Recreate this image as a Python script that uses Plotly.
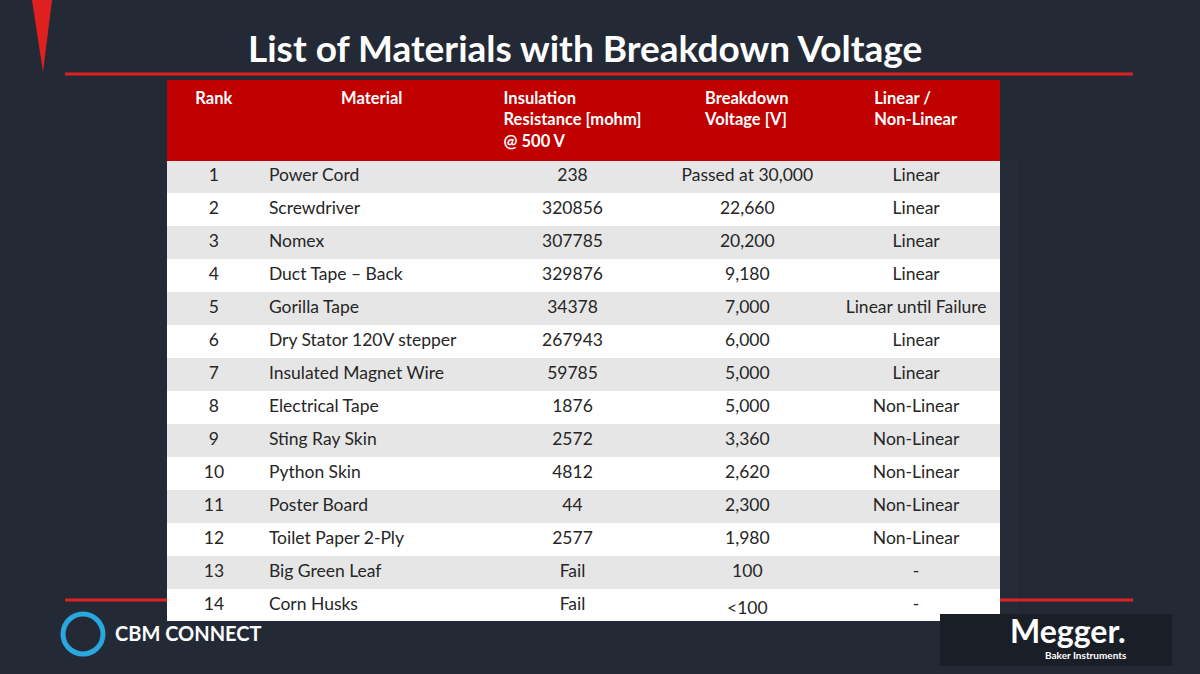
import plotly.graph_objects as go

# データ
headers = ["<b><br>Rank</b>", "<b><br>Material</b>", "<b>Insulation<br>Resistance [mohm]<br>@ 500 V</b>",
           "<b>Breakdown<br>Voltage [V]</b>", "<b>Linear /<br>Non-Linear</b>"]
ranks = [str(i) for i in range(1, 15)]
materials = ["Power Cord", "Screwdriver", "Nomex", "Duct Tape \u2013 Back", "Gorilla Tape",
             "Dry Stator 120V stepper", "Insulated Magnet Wire", "Electrical Tape",
             "Sting Ray Skin", "Python Skin", "Poster Board", "Toilet Paper 2-Ply",
             "Big Green Leaf", "Corn Husks"]
resistance = ["238", "320856", "307785", "329876", "34378", "267943", "59785", "1876",
              "2572", "4812", "44", "2577", "Fail", "Fail"]
breakdown = ["Passed at 30,000", "22,660", "20,200", "9,180", "7,000", "6,000", "5,000",
             "5,000", "3,360", "2,620", "2,300", "1,980", "100", "<100"]
linearity = ["Linear", "Linear", "Linear", "Linear", "Linear until Failure", "Linear", "Linear",
             "Non-Linear", "Non-Linear", "Non-Linear", "Non-Linear", "Non-Linear", "-", "-"]

W, H = 1200, 674
bg = "#232a36"
red = "#c00000"
line_red = "#e0201f"
font_family = "Lato, 'Open Sans', sans-serif"


def px(x):
    return x / W


def py(y):
    return 1 - y / H


row_fill = ["#e6e6e6" if i % 2 == 0 else "#ffffff" for i in range(len(ranks))]

fig = go.Figure()

# 赤線 (テーブルの後ろ)
for yy in (74, 600):
    fig.add_shape(type="line", x0=px(65), x1=px(1133), y0=py(yy), y1=py(yy), layer="below",
                  xref="paper", yref="paper", line=dict(color=line_red, width=3))
# 左上の赤い三角
fig.add_shape(type="path", path=f"M {px(32)} {py(0)} L {px(52)} {py(0)} L {px(43)} {py(72)} Z",
              xref="paper", yref="paper", fillcolor=line_red, line_width=0)
# Megger ロゴの背景
fig.add_shape(type="rect", x0=px(940), x1=px(1172), y0=py(666), y1=py(614),
              xref="paper", yref="paper", fillcolor="#1a1f27", line_width=0)
# CBM ロゴのアイコン
fig.add_shape(type="circle", x0=px(63), x1=px(103), y0=py(654), y1=py(614),
              xref="paper", yref="paper", line=dict(color="#29a8e0", width=5))

fig.add_trace(go.Table(
    domain=dict(x=[px(167), px(1001)], y=[py(621), py(80)]),
    columnwidth=[94, 222, 180, 170, 168],
    header=dict(
        values=headers,
        fill_color=red,
        line_color=red,
        align="center",
        height=80,
        font=dict(color="white", size=16.5, family=font_family),
    ),
    cells=dict(
        values=[ranks, materials, resistance, breakdown, linearity],
        fill_color=[row_fill] * 5,
        line_color=[row_fill] * 5,
        align=["center", "left", "center", "center", "center"],
        height=33,
        font=dict(color="#262626", size=17.5, family=font_family),
    ),
))


def note(text, x, y, size, **kw):
    fig.add_annotation(text=text, x=px(x), y=py(y), xref="paper", yref="paper",
                       showarrow=False, yanchor="middle", xanchor=kw.pop("xanchor", "center"),
                       font=dict(color="white", size=size, family=font_family), **kw)


# タイトル
note("<b>List of Materials with Breakdown Voltage</b>", 585, 47, 37)
# ロゴ
note("<b>CBM CONNECT</b>", 113, 633, 20, xanchor="left")
note("<b>Megger.</b>", 1068, 630, 32)
note("<b>Baker Instruments</b>", 1086, 655, 10)

fig.update_layout(
    width=W, height=H,
    margin=dict(l=0, r=0, t=0, b=0),
    paper_bgcolor=bg,
    plot_bgcolor=bg,
)

fig.write_html("out.html", config={"displayModeBar": False},
               post_script="document.body.style.margin='0';document.body.style.background='#232a36';")
